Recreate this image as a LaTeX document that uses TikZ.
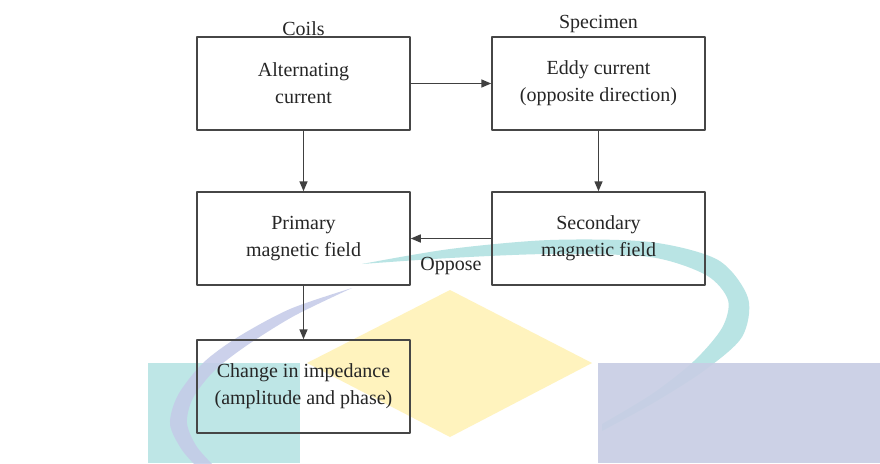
\documentclass[tikz,border=0pt]{standalone}
\usepackage{fontspec}
\setmainfont{Liberation Serif}
\usetikzlibrary{arrows.meta, calc, positioning}

\definecolor{wmcyan}{RGB}{190,230,230}
\definecolor{wmarc}{RGB}{185,228,228}
\definecolor{wmblue}{RGB}{200,206,228}
\definecolor{wmlav}{RGB}{196,202,232}
\definecolor{wmyellow}{RGB}{255,243,190}
\definecolor{boxgray}{RGB}{70,70,70}

\tikzset{
  stage/.style={draw=boxgray, line width=1.5pt, minimum width=213pt, minimum height=93pt,
    align=center, font=\fontsize{20}{27}\selectfont, text=black!85},
  tag/.style={font=\fontsize{20}{24}\selectfont, text=black!85},
  flow/.style={->, draw=black!75, line width=1.5pt}
}

\begin{document}
\begin{tikzpicture}[line cap=round,line join=round,>={Triangle[length=10pt,width=8pt]},x=1pt,y=-1pt]
\clip (0,0) rectangle (880,463);
\fill[white] (0,0) rectangle (880,463);

% watermark behind the chart
\fill[wmarc] plot[smooth] coordinates {(362,264) (450,249) (550,240) (650,242) (718,260) (748,298) (742,337) (705,370) (655,402) (602,431)}
  -- plot[smooth] coordinates {(602,424) (652,394) (694,361) (722,328) (728,300) (706,275) (650,257) (550,254) (450,258) (362,264)} -- cycle;
\fill[wmcyan] (148,363) rectangle (300,463);
\fill[wmblue, opacity=0.92] (598,363) rectangle (880,463);
\fill[wmlav, opacity=0.85] plot[smooth] coordinates {(352,288) (290,309) (238,337) (203,363) (178,395) (170,424) (182,450) (200,470)}
  -- plot[smooth] coordinates {(218,470) (197,447) (187,423) (193,398) (214,371) (246,346) (294,316) (352,288)} -- cycle;
\fill[wmyellow] (450,290) -- (592,363) -- (450,437) -- (307,363) -- cycle;

% stages
\node[stage] (alt) at (303.5,83.5) {Alternating\\current};
\node[stage] (eddy) at (598.5,83.5) {Eddy current\\(opposite direction)};
\node[stage] (prim) at (303.5,238.5) {Primary\\magnetic field};
\node[stage] (sec) at (598.5,238.5) {Secondary\\magnetic field};
\node[stage] (imp) at (303.5,386.5) {Change in impedance\\(amplitude and phase)};

\node[tag, above=-3pt of alt] (coils) {Coils};
\node[tag, above=0pt of eddy] (spec) {Specimen};

% links
\draw[flow] (alt) -- (eddy);
\draw[flow] (alt) -- (prim);
\draw[flow] (eddy) -- (sec);
\draw[flow] (sec) -- node[tag, below=15pt] (oppose) {Oppose} (prim);
\draw[flow] (prim) -- (imp);
\end{tikzpicture}
\end{document}
